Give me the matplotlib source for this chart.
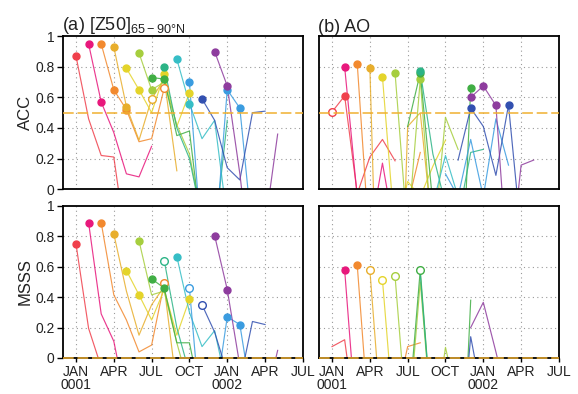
import matplotlib
matplotlib.use("Agg")
import matplotlib.pyplot as plt

plt.rcParams["font.family"] = ["Liberation Sans", "DejaVu Sans"]
plt.rcParams["mathtext.fontset"] = "custom"
plt.rcParams["mathtext.rm"] = "Liberation Sans"

# start month of each forecast (0 = JAN 0001), six monthly values each
starts = list(range(12))
colors = ["#F0404C", "#E8187C", "#F2892E", "#E8AE2C", "#E4D42A", "#A6CE3E",
          "#40AE44", "#2CB486", "#36BEC6", "#3A9CE0", "#3250B0", "#8E3C9E"]

# marker codes: f = filled circle, o = open circle, . = none
acc_z50 = [
    [0.87, 0.46, 0.22, 0.21, -0.37, -0.30],
    [0.95, 0.57, 0.37, 0.10, 0.08, 0.28],
    [0.95, 0.65, 0.52, 0.31, 0.33, 0.66],
    [0.93, 0.54, 0.32, 0.59, 0.72, 0.12],
    [0.79, 0.65, 0.50, 0.75, 0.41, 0.63],
    [0.89, 0.65, 0.70, 0.42, 0.23, -0.20],
    [0.73, 0.72, 0.35, 0.38, -0.30, -0.30],
    [0.80, 0.40, 0.20, -0.20, -0.30, 0.45],
    [0.85, 0.56, 0.33, 0.45, -0.20, -0.30],
    [0.70, -0.40, -0.40, 0.65, 0.53, -0.30],
    [0.59, 0.45, 0.14, 0.06, 0.50, 0.51],
    [0.90, 0.675, 0.10, -0.60, -0.24, 0.36],
]
acc_z50_marks = ["f.....", "ff....", "fff..o", "ff.o..", "ff.f.f", "ff....",
                 "ff....", "f.....", "ff....", "f..ff.", "f.....", "ff...."]

msss_z50 = [
    [0.75, 0.195, -0.06, -0.30, -0.30, -0.30],
    [0.89, 0.29, 0.11, -0.30, -0.30, -0.30],
    [0.89, 0.415, 0.25, 0.04, 0.085, 0.49],
    [0.816, 0.44, 0.15, 0.35, 0.47, -0.20],
    [0.575, 0.415, 0.25, 0.45, 0.15, 0.386],
    [0.77, 0.415, 0.44, 0.10, -0.20, -0.30],
    [0.52, 0.46, 0.10, 0.10, -0.30, -0.30],
    [0.64, 0.20, -0.10, -0.30, -0.30, -0.30],
    [0.667, 0.30, 0.075, 0.18, -0.20, -0.30],
    [0.46, -0.50, -0.30, 0.27, 0.22, -0.30],
    [0.35, 0.17, -0.10, -0.16, 0.24, 0.22],
    [0.805, 0.45, -0.05, -0.50, -0.30, 0.05],
]
msss_z50_marks = ["f.....", "f.....", "f....o", "f.....", "ff...f", "f.....",
                  "ff....", "o.....", "f.....", "o..ff.", "o.....", "ff...."]

acc_ao = [
    [0.505, 0.61, -0.03, 0.21, 0.325, 0.185],
    [0.80, -0.05, -0.30, 0.17, -0.30, -0.30],
    [0.82, -0.40, -0.50, -0.50, -0.10, 0.24],
    [0.795, -2.0, -2.0, 0.41, 0.50, -0.30],
    [0.734, -0.30, 0.05, -0.05, 0.15, 0.32],
    [0.76, -0.30, 0.72, -0.40, 0.47, 0.26],
    [0.41, 0.76, -0.10, -0.30, -1.20, 0.66],
    [0.77, 0.23, -0.10, -0.20, 0.24, 0.26],
    [-0.10, 0.22, -0.05, -0.30, -0.30, -0.30],
    [0.10, -0.05, 0.325, -0.05, 0.46, 0.157],
    [0.19, 0.53, 0.41, 0.09, 0.55, -0.30],
    [0.60, 0.675, 0.547, -0.60, 0.157, 0.19],
]
acc_ao_marks = ["of....", "f.....", "f.....", "f.....", "f.....", "f.f...",
                ".f...f", "f.....", "......", "......", ".f..f.", "fff..."]

msss_ao = [
    [0.075, 0.12, -0.50, -0.30, -0.30, -0.30],
    [0.58, -0.50, -0.30, -0.30, -0.30, -0.30],
    [0.61, -0.50, -0.30, -0.30, 0.075, 0.10],
    [0.58, -0.50, -0.30, -0.30, -0.30, -0.30],
    [0.513, -0.50, -0.30, -0.10, -0.30, -0.30],
    [0.537, -0.50, 0.50, -0.50, 0.07, -0.30],
    [-0.42, 0.58, -0.50, -0.30, -1.40, 0.38],
    [0.55, -0.50, -0.30, -0.30, -0.30, -0.30],
    [-0.30, -0.30, -0.30, -0.30, -0.30, -0.30],
    [-0.30, -0.30, -0.30, -0.30, -0.30, -0.30],
    [-0.80, 0.14, -0.30, -0.30, -0.30, -0.30],
    [0.20, 0.366, 0.04, -0.30, -0.30, -0.30],
]
msss_ao_marks = ["......", "f.....", "f.....", "o.....", "o.....", "o.....",
                 ".o....", "......", "......", "......", "......", "......"]

xticks = [0, 3, 6, 9, 12, 15, 18]
xticklabels = ["JAN\n0001", "APR", "JUL", "OCT", "JAN\n0002", "APR", "JUL"]
yticks = [0, 0.2, 0.4, 0.6, 0.8, 1]
yticklabels = ["0", "0.2", "0.4", "0.6", "0.8", "1"]

fig = plt.figure(figsize=(5.78, 3.94), dpi=100, facecolor="white")

panels = [
    ([0.109, 0.520, 0.415, 0.388], acc_z50, acc_z50_marks, 0.5, True, False),
    ([0.552, 0.520, 0.415, 0.388], acc_ao, acc_ao_marks, 0.5, False, False),
    ([0.109, 0.0914, 0.415, 0.386], msss_z50, msss_z50_marks, 0.0, True, True),
    ([0.552, 0.0914, 0.415, 0.386], msss_ao, msss_ao_marks, 0.0, False, True),
]

axes = []
for rect, vals, marks, ref, left, bottom in panels:
    ax = fig.add_axes(rect)
    axes.append(ax)
    ax.set_xlim(-1.03, 18)
    ax.set_ylim(0, 1)

    # dotted grid
    for gx in xticks[:-1]:
        ax.axvline(gx, color="#9a9a9a", lw=0.8, ls=(0, (1, 3)), zorder=1)
    for gy in [0.2, 0.4, 0.6, 0.8]:
        ax.axhline(gy, color="#9a9a9a", lw=0.8, ls=(0, (1, 3)), zorder=1)

    # reference line (0.5 for ACC, 0 for MSSS)
    ax.axhline(ref, color="#F0B030", lw=1.1, ls=(0, (7, 2.5)),
               zorder=10, clip_on=False)

    for k, series, code, col in zip(starts, vals, marks, colors):
        xs = [k + i for i in range(len(series))]
        ax.plot(xs, series, color=col, lw=0.85, zorder=3, alpha=0.85)
        for x, y, c in zip(xs, series, code):
            if c == "f":
                ax.plot(x, y, "o", ms=5, color=col, mec=col, zorder=5)
            elif c == "o":
                ax.plot(x, y, "o", ms=5.5, mfc="white", mec=col, mew=1.0,
                        zorder=5)

    for s in ax.spines.values():
        s.set_linewidth(1.3)
        s.set_zorder(4)

    ax.set_yticks(yticks)
    if left:
        ax.set_yticklabels(yticklabels, fontsize=10, color="#222222")
        ax.tick_params(axis="y", direction="out", length=4, width=1, pad=2)
    else:
        ax.set_yticklabels([])
        ax.tick_params(axis="y", length=0)

    ax.set_xticks(xticks)
    if bottom:
        ax.set_xticklabels(xticklabels, fontsize=10, linespacing=0.95,
                           color="#222222")
        ax.tick_params(axis="x", direction="out", length=3, width=1, pad=2)
    else:
        ax.set_xticklabels([])
        ax.tick_params(axis="x", length=0)

axes[0].set_ylabel("ACC", fontsize=12, labelpad=2, color="#222222")
axes[2].set_ylabel("MSSS", fontsize=12, labelpad=2, color="#222222")

axes[0].set_title(r"(a) [Z50]$_\mathregular{65-90°N}$", loc="left",
                  fontsize=13, pad=3, x=-0.005, color="#222222")
axes[1].set_title("(b) AO", loc="left", fontsize=13, pad=3, x=-0.005,
                  color="#222222")

fig.savefig("out.png", dpi=100, facecolor="white")
